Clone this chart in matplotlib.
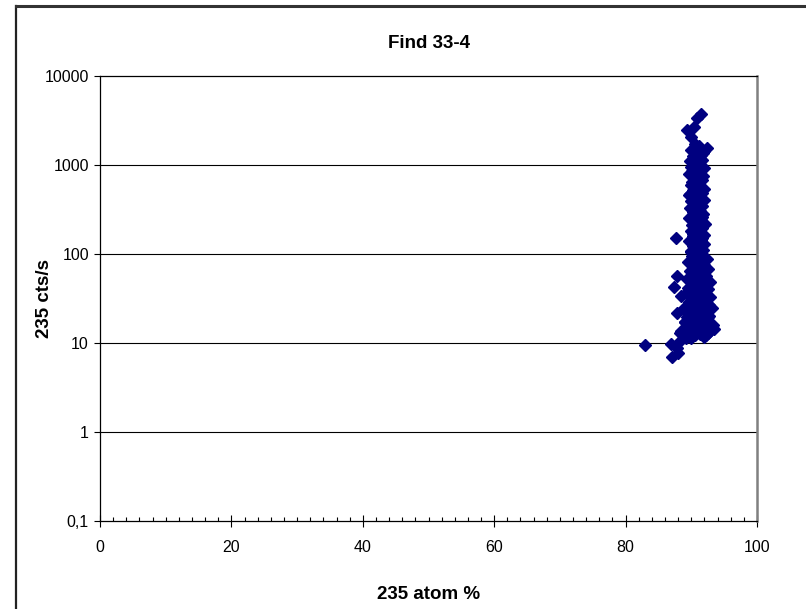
import matplotlib.pyplot as plt
from matplotlib.lines import Line2D
from matplotlib.ticker import FixedLocator, MultipleLocator, FuncFormatter

plt.rcParams['font.family'] = ['Liberation Sans', 'DejaVu Sans']

# 235 atom % (x) and 235 cts/s (y)
atom = [91.5, 90.9, 90.4, 89.4, 90.0, 90.3, 92.4,
        90.6, 91.2, 89.9, 92.0, 90.8, 91.5, 90.2, 91.0, 91.7, 89.8,
        90.5, 91.3, 90.0, 91.9, 90.7, 91.4, 90.3, 89.7, 91.1, 91.8,
        90.5, 90.9, 91.6, 90.1, 91.2, 89.9, 90.6, 91.5, 92.0, 90.3,
        91.0, 91.7, 89.6, 90.8, 91.3, 90.4, 91.9, 90.0, 91.1, 90.6,
        91.6, 89.8, 90.9, 91.4, 90.2, 91.8, 90.7, 91.2, 89.7, 90.4,
        91.5, 90.9, 92.1, 90.1, 91.0, 91.7, 90.5, 89.9, 91.3, 90.8,
        91.9, 90.3, 91.1, 91.6, 90.6, 89.6, 91.4, 90.9, 92.0, 90.2,
        91.2, 90.7, 91.8, 89.9, 91.5, 90.4, 91.0,
        90.7, 91.4, 90.1, 91.1, 90.5, 91.6, 89.8, 90.9, 91.3, 90.2,
        91.7, 90.6, 91.0, 90.3, 91.5, 90.8, 91.2, 90.0, 91.8, 90.4,
        90.1, 91.7, 92.4, 90.8, 89.5, 91.3, 92.0, 90.5, 91.0, 92.6,
        89.8, 91.5, 90.3, 92.2, 91.1, 89.3, 90.7, 92.8, 91.8, 90.0,
        91.3, 92.5, 90.6, 89.2, 91.9, 92.9, 90.9, 91.5, 89.6, 92.3,
        90.4, 91.2, 93.1, 89.9, 92.0, 90.8, 91.6, 92.7, 89.4, 90.5,
        91.4, 92.4, 89.0, 91.0, 93.3, 90.2, 91.8, 92.9, 89.7, 90.9,
        92.2, 93.4, 91.3, 89.5, 90.6, 92.6, 91.9, 90.0, 88.8, 89.2,
        91.1, 92.1, 90.7, 91.6, 92.3, 90.4, 91.2, 92.7, 91.7, 90.9,
        92.5, 91.4, 90.3, 92.0, 91.0, 92.8, 91.5, 90.6, 92.2, 91.8,
        87.6, 87.8, 87.4, 89.5, 87.8, 89.0, 88.3, 88.5, 88.8, 88.5,
        83.0, 86.9, 88.0, 87.8, 87.1, 88.0]
cts = [3740, 3370, 2670, 2470, 2070, 1510, 1550,
       1700, 1650, 1480, 1450, 1400, 1300, 1250, 1200, 1150, 1100,
       1050, 1000, 960, 930, 900, 870, 840, 800, 780, 750,
       720, 700, 680, 650, 620, 600, 580, 560, 540, 520,
       500, 480, 460, 450, 430, 410, 400, 390, 370, 360,
       345, 330, 320, 305, 295, 285, 275, 265, 255, 245,
       238, 228, 220, 212, 205, 198, 190, 182, 176, 170,
       165, 160, 155, 150, 145, 140, 136, 132, 128, 124,
       120, 116, 112, 108, 104, 100, 97,
       1120, 980, 860, 760, 640, 540, 470, 420, 350, 310,
       260, 230, 185, 168, 142, 130, 118, 106, 1350, 1020,
       95, 92, 88, 85, 82, 80, 76, 73, 70, 67,
       64, 62, 60, 57, 55, 52, 50, 48, 46, 44,
       42, 40, 38, 36, 35, 33, 32, 30, 29, 28,
       27, 26, 25, 24, 23, 22, 21, 20, 19.5, 19,
       18.5, 18, 17, 16.5, 16, 15.5, 15, 14.5, 14, 13.5,
       13, 14.2, 12.5, 12, 12.2, 12.8, 11.8, 11.5, 13, 11.3,
       78, 68, 58, 47, 39, 34, 31, 26.5, 24, 21.5,
       19.8, 17.5, 16.2, 15.2, 14.8, 13.8, 13.2, 12.6, 12.3, 14.0,
       150, 56, 43, 41, 22, 17, 13, 13.6, 24, 34,
       9.5, 9.7, 9.9, 8.7, 7.0, 7.7]

y_ticks = [0.1, 1, 10, 100, 1000, 10000]

fig = plt.figure(figsize=(8.06, 6.09), dpi=100)
ax = fig.add_axes([0.1241, 0.1445, 0.8151, 0.7307])

ax.plot(atom, cts, linestyle='none', marker='D', markersize=5.8,
        color='#000080', mec='#000080', zorder=3)

ax.set_yscale('log')
ax.set_xlim(0, 100)
ax.set_ylim(0.1, 10000)
ax.yaxis.set_major_locator(FixedLocator(y_ticks))
ax.yaxis.set_minor_locator(FixedLocator([]))
ax.yaxis.set_major_formatter(FuncFormatter(lambda v, p: ('%g' % v).replace('.', ',')))
ax.xaxis.set_major_locator(MultipleLocator(20))
ax.xaxis.set_minor_locator(MultipleLocator(2))

for yv in y_ticks[1:-1]:
    ax.axhline(yv, color='black', lw=0.8, zorder=1)

ax.tick_params(axis='y', which='major', direction='out', length=4, width=0.8,
               labelsize=11.5, pad=4)
ax.tick_params(axis='x', which='major', direction='inout', length=8, width=0.8,
               labelsize=11.5, pad=10)
ax.tick_params(axis='x', which='minor', direction='in', length=3, width=0.8)

ax.spines['right'].set_color('#808080')
ax.spines['right'].set_linewidth(1.8)
for s in ['left', 'bottom', 'top']:
    ax.spines[s].set_linewidth(0.9)

ax.set_title('Find 33-4', fontsize=13.5, fontweight='bold', pad=20)
ax.set_xlabel('235 atom %', fontsize=13.5, fontweight='bold', labelpad=22)
ax.set_ylabel('235 cts/s', fontsize=13.5, fontweight='bold')
ax.yaxis.set_label_coords(-0.071, 0.5)

# outer chart frame (left and top edges visible)
fig.add_artist(Line2D([16 / 806, 16 / 806], [0, 1 - 5.5 / 609],
                      transform=fig.transFigure, color='#222222', lw=1.6))
fig.add_artist(Line2D([16 / 806, 1], [1 - 5.5 / 609, 1 - 5.5 / 609],
                      transform=fig.transFigure, color='#333333', lw=2.2))

fig.savefig('out.png', dpi=100)
